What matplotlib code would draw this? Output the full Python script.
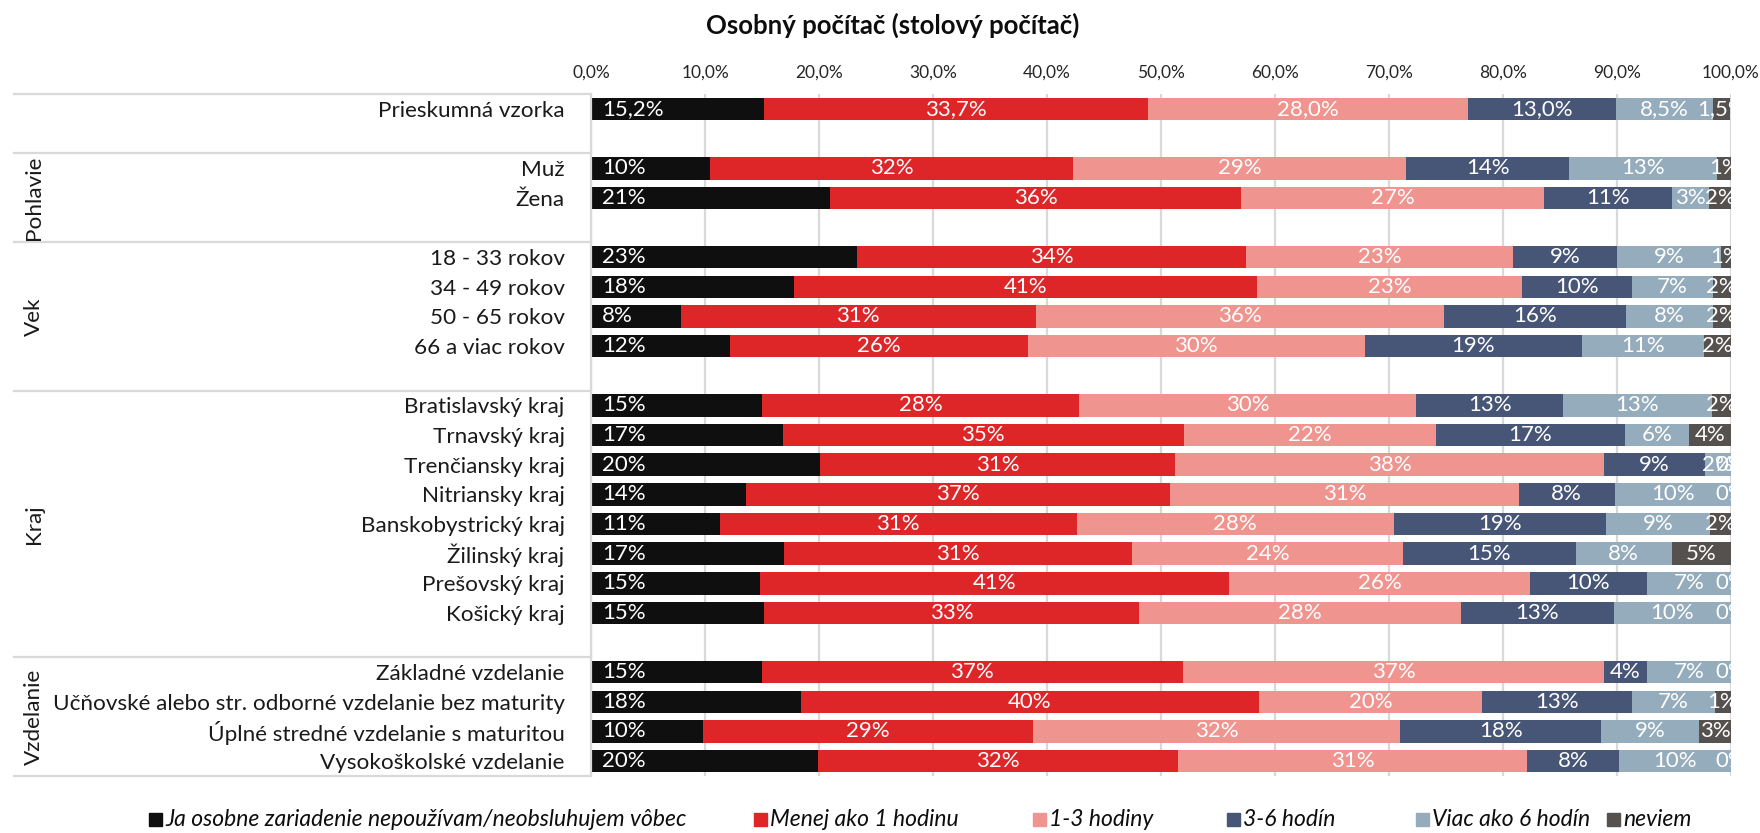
import matplotlib.pyplot as plt
from matplotlib.patches import Rectangle

plt.rcParams['font.family'] = ['Lato', 'DejaVu Sans']

title = "Osobný počítač (stolový počítač)"

# skupiny respondentov a ich riadky
group_names = ["", "Pohlavie", "Vek", "Kraj", "Vzdelanie"]
group_rows = [
    ["Prieskumná vzorka"],
    ["Muž", "Žena"],
    ["18 - 33 rokov", "34 - 49 rokov", "50 - 65 rokov", "66 a viac rokov"],
    ["Bratislavský kraj", "Trnavský kraj", "Trenčiansky kraj", "Nitriansky kraj",
     "Banskobystrický kraj", "Žilinský kraj", "Prešovský kraj", "Košický kraj"],
    ["Základné vzdelanie", "Učňovské alebo str. odborné vzdelanie bez maturity",
     "Úplné stredné vzdelanie s maturitou", "Vysokoškolské vzdelanie"],
]

series_names = ["Ja osobne zariadenie nepoužívam/neobsluhujem vôbec",
                "Menej ako 1 hodinu", "1-3 hodiny", "3-6 hodín",
                "Viac ako 6 hodín", "neviem"]
colors = ["#0f0f0f", "#de2629", "#ef948e", "#475676", "#95acbc", "#55514e"]

# hodnoty v % (poradie riadkov ako v group_rows)
nepouzivam = [15.2, 10.4, 21.0, 23.3, 17.8, 7.9, 12.2,
              15.0, 16.8, 20.1, 13.6, 11.3, 16.9, 14.8, 15.2,
              15.0, 18.4, 9.8, 19.9]
menej_1h = [33.7, 31.9, 36.0, 34.2, 40.6, 31.1, 26.1,
            27.8, 35.2, 31.1, 37.2, 31.3, 30.6, 41.2, 32.9,
            36.9, 40.2, 29.0, 31.6]
hod_1_3 = [28.0, 29.2, 26.6, 23.4, 23.3, 35.8, 29.6,
           29.6, 22.1, 37.7, 30.6, 27.8, 23.7, 26.4, 28.2,
           37.0, 19.6, 32.2, 30.6]
hod_3_6 = [13.0, 14.3, 11.2, 9.1, 9.6, 16.0, 19.0,
           12.9, 16.6, 8.8, 8.4, 18.6, 15.2, 10.2, 13.4,
           3.7, 13.1, 17.6, 8.1]
viac_6h = [8.5, 13.0, 3.3, 9.1, 7.1, 7.6, 10.7,
           13.0, 5.6, 2.3, 10.2, 9.2, 8.4, 7.4, 10.3,
           7.4, 7.3, 8.6, 9.8]
neviem = [1.5, 1.2, 1.9, 0.9, 1.6, 1.6, 2.4,
          1.7, 3.7, 0.0, 0.0, 1.8, 5.2, 0.0, 0.0,
          0.0, 1.4, 2.8, 0.0]

series = [nepouzivam, menej_1h, hod_1_3, hod_3_6, viac_6h, neviem]
ticks = list(range(0, 101, 10))


def fmt(v, dec):
    if dec == 0:
        return f"{int(v + 0.5)}%"
    return f"{v:.{dec}f}%".replace('.', ',')


# rozlozenie riadkov s prazdnym riadkom medzi skupinami
labels, ypos, group_span = [], [], []
y = 0
for gi, rows in enumerate(group_rows):
    start = y - 0.5
    for r in rows:
        labels.append(r)
        ypos.append(y)
        y += 1
    y += 1  # medzera
    end = y - 0.5 if gi < len(group_rows) - 1 else y - 1.5
    group_span.append((start, end))

fig = plt.figure(figsize=(17.6, 8.33), dpi=100)
ax = fig.add_axes([0.3358, 0.0685, 0.6477, 0.8185])

lefts = [0.0] * len(labels)
for si, (vals, col) in enumerate(zip(series, colors)):
    bars = ax.barh(ypos, vals, left=lefts, height=0.76, color=col,
                   label=series_names[si], zorder=2)
    for i, (b, v) in enumerate(zip(bars, vals)):
        dec = 1 if i == 0 else 0
        if si == 0:
            ax.annotate(fmt(v, dec), (0, ypos[i]), xytext=(8, 0),
                        textcoords='offset points', ha='left', va='center',
                        color='white', fontsize=16, zorder=3, clip_on=True)
        else:
            ax.text(lefts[i] + v / 2, ypos[i], fmt(v, dec), ha='center',
                    va='center', color='white', fontsize=16, zorder=3,
                    clip_on=True)
    lefts = [l + v for l, v in zip(lefts, vals)]

ax.set_xlim(0, 100)
ax.set_ylim(y - 1.5, -0.5)
ax.xaxis.tick_top()
ax.set_xticks(ticks)
ax.set_xticklabels([f"{t:.1f}%".replace('.', ',') for t in ticks],
                   fontsize=12.5, color='#262626')
ax.set_yticks(ypos)
ax.set_yticklabels(labels, fontsize=16.2, color='#1a1a1a')
ax.tick_params(length=0)
ax.tick_params(axis='x', pad=10)
ax.tick_params(axis='y', pad=19)
ax.grid(axis='x', color='#d9d9d9', linewidth=1.6, zorder=0)
ax.set_axisbelow(True)
for s in ['top', 'right', 'bottom']:
    ax.spines[s].set_visible(False)
ax.spines['left'].set_color('#d9d9d9')
ax.spines['left'].set_linewidth(1.6)

# oddelovace skupin a nazvy skupin vlavo
tr = ax.get_yaxis_transform()
for name, (y0, y1) in zip(group_names, group_span):
    ax.plot([-0.506, 0], [y0, y0], transform=tr, color='#d9d9d9',
            linewidth=1.6, clip_on=False)
    if name:
        ax.text(-0.4886, (y0 + y1) / 2, name, transform=tr, rotation=90,
                ha='center', va='center', fontsize=16.2, color='#1a1a1a')
ax.plot([-0.506, 0], [group_span[-1][1], group_span[-1][1]], transform=tr,
        color='#d9d9d9', linewidth=1.6, clip_on=False)

fig.text(0.507, 0.970, title, ha='center', va='center', fontsize=18.5,
         fontweight='bold', color='#0d0d0d')

# legenda dole
leg_x = [149, 754, 1033, 1227, 1416, 1607]
for lx, name, col in zip(leg_x, series_names, colors):
    fig.patches.append(Rectangle((lx / 1760, 7 / 833), 13 / 1760, 13 / 833,
                                 transform=fig.transFigure, color=col))
    fig.text((lx + 16) / 1760, 7 / 833, name, ha='left', va='baseline',
             fontsize=16.5, style='italic', color='#0d0d0d')

fig.savefig("out.png", dpi=100)
